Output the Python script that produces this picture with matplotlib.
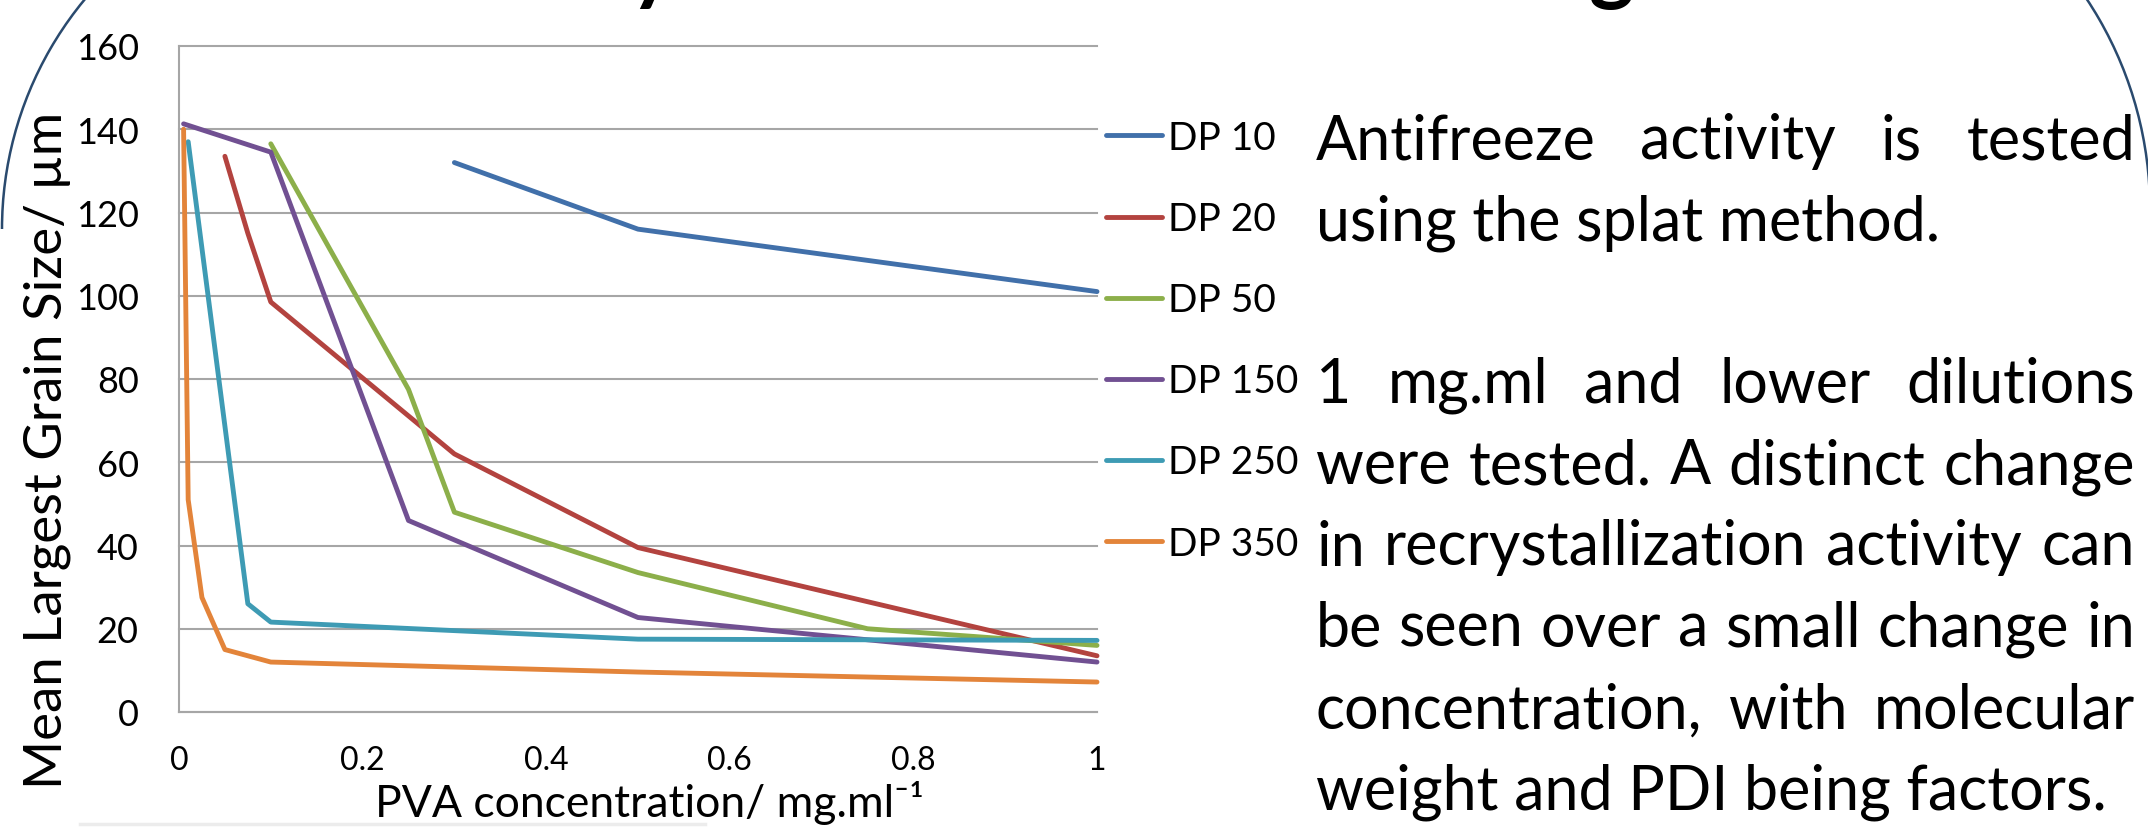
import matplotlib
matplotlib.use('Agg')
import matplotlib.pyplot as plt
from matplotlib.patches import Arc
from matplotlib.lines import Line2D
from matplotlib.transforms import IdentityTransform

W, H = 2148, 828
plt.rcParams['font.family'] = ['Lato', 'DejaVu Sans']

# data (x = PVA conc. mg/ml, y = mean largest grain size um)
series_names = ['DP 10', 'DP 20', 'DP 50', 'DP 150', 'DP 250', 'DP 350']
series_colors = ['#4170AA', '#B3433F', '#8CAF4A', '#715092', '#3E9BB4', '#E3843A']

conc_dp10 = [0.3, 0.5, 1]
size_dp10 = [132, 116, 101]
conc_dp20 = [0.05, 0.075, 0.1, 0.3, 0.5, 1]
size_dp20 = [133.5, 115, 98.5, 62, 39.5, 13.5]
conc_dp50 = [0.1, 0.25, 0.3, 0.5, 0.75, 1]
size_dp50 = [136.5, 77.5, 48, 33.5, 20, 16]
conc_dp150 = [0.005, 0.1, 0.25, 0.5, 1]
size_dp150 = [141.3, 134.5, 46, 22.7, 12]
conc_dp250 = [0.01, 0.075, 0.1, 0.5, 1]
size_dp250 = [137, 26, 21.6, 17.5, 17.2]
conc_dp350 = [0.005, 0.01, 0.025, 0.05, 0.1, 0.5, 1]
size_dp350 = [140, 51, 27.5, 15, 12, 9.6, 7.2]

y_ticks = [0, 20, 40, 60, 80, 100, 120, 140, 160]
x_ticks = [0, 0.2, 0.4, 0.6, 0.8, 1]
x_tick_labels = ['0', '0.2', '0.4', '0.6', '0.8', '1']

paragraph = [
    ('Antifreeze activity is tested', True),
    ('using the splat method.', False),
    None,
    ('1 mg.ml and lower dilutions', True),
    ('were tested. A distinct change', True),
    ('in recrystallization activity can', True),
    ('be seen over a small change in', True),
    ('concentration, with molecular', True),
    ('weight and PDI being factors.', False),
]

conc = [conc_dp10, conc_dp20, conc_dp50, conc_dp150, conc_dp250, conc_dp350]
sizes = [size_dp10, size_dp20, size_dp50, size_dp150, size_dp250, size_dp350]


def fpos(x, y):
    # pixel (from top-left) -> figure fraction
    return x / W, 1 - y / H


fig = plt.figure(figsize=(W / 100, H / 100), dpi=100)
ax = fig.add_axes([179 / W, (H - 713) / H, 918 / W, 666 / H])

grid_c = '#A6A6A6'
for x, y, c, name in zip(conc, sizes, series_colors, series_names):
    ax.plot(x, y, color=c, lw=3.5, label=name, solid_capstyle='round',
            solid_joinstyle='round', clip_on=False, zorder=3)

ax.set_xlim(0, 1)
ax.set_ylim(0, 160)
ax.set_yticks(y_ticks)
ax.set_xticks(x_ticks)
ax.set_xticklabels(x_tick_labels)
ax.grid(axis='y', color=grid_c, lw=1.5, clip_on=False)
ax.set_axisbelow(True)
for s in ['top', 'right']:
    ax.spines[s].set_visible(False)
for s in ['left', 'bottom']:
    ax.spines[s].set_color(grid_c)
    ax.spines[s].set_linewidth(1.5)
ax.tick_params(axis='y', length=0, pad=29, labelsize=26)
ax.tick_params(axis='x', length=0, pad=24, labelsize=23)

ax.set_xlabel('PVA concentration/ mg.ml\u207b\u00b9', fontsize=32)
ax.xaxis.set_label_coords((649 - 179) / 918, (713 - 817) / 666)
ax.xaxis.label.set_va('baseline')
ax.set_ylabel('Mean Largest Grain Size/ \u00b5m', fontsize=38)
ax.yaxis.set_label_coords((47 - 179) / 918, (713 - 450) / 666)
ax.yaxis.label.set_va('center')

fig.legend(loc='upper left', bbox_to_anchor=fpos(1106, 121), frameon=False,
           fontsize=28, handlelength=1.45, handletextpad=0.15, labelspacing=1.16,
           borderpad=0, borderaxespad=0)

# justified paragraph on the right
x0, x1 = 1316, 2135
base0, step = 159, 81.3
fig.canvas.draw()
r = fig.canvas.get_renderer()

# pick the font size so the tightest line just fills the column
probe = [fig.text(0, 0, ln[0], fontsize=40) for ln in paragraph if ln and ln[1]]
widest = max(t.get_window_extent(r).width for t in probe)
for t in probe:
    t.remove()
fs = 40 * (x1 - x0) / widest * 0.99

for i, line in enumerate(paragraph):
    if line is None:
        continue
    text, justify = line
    yb = base0 + i * step
    if not justify:
        fig.text(*fpos(x0, yb), text, fontsize=fs, va='baseline', ha='left')
        continue
    words = text.split()
    ts = [fig.text(0, 0, w, fontsize=fs, va='baseline', ha='left') for w in words]
    widths = [t.get_window_extent(r).width for t in ts]
    gap = (x1 - x0 - sum(widths)) / (len(words) - 1)
    xx = x0
    for t, w in zip(ts, widths):
        t.set_position(fpos(xx, yb))
        xx += w + gap

# cut-off title descenders at the top edge
fig.text(*fpos(652, -6), 'y', fontsize=62, fontweight='bold', ha='center', va='baseline')
fig.text(*fpos(1612, -6), 'g', fontsize=62, fontweight='bold', ha='center', va='baseline')

# rounded border of the panel
navy = '#2A4A6E'
fig.add_artist(Arc((362, H - 230), 720, 720, theta1=120, theta2=180,
                   transform=IdentityTransform(), color=navy, lw=1.8))
fig.add_artist(Arc((1770, H - 210), 760, 760, theta1=0, theta2=60,
                   transform=IdentityTransform(), color=navy, lw=1.8))

# faint shadow line along the bottom left
fig.add_artist(Line2D([80 / W, 705 / W], [3 / H, 3 / H], color='#ECECEC', lw=2.5))

fig.savefig('out.png', dpi=100)
